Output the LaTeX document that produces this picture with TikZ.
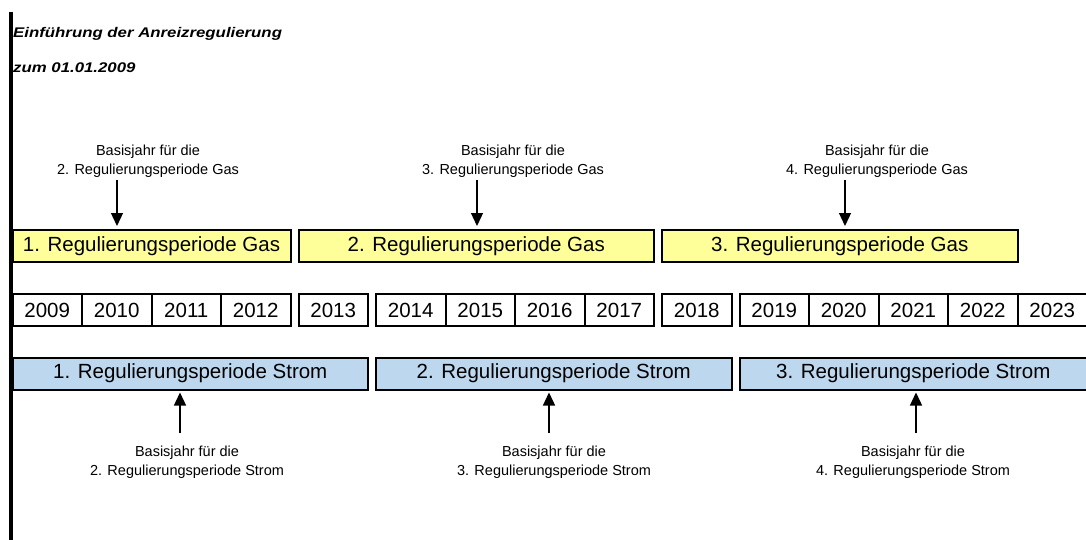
\documentclass[tikz,border=0pt]{standalone}
\usepackage{fontspec}
\setmainfont{Liberation Sans}
\usetikzlibrary{positioning}
\usetikzlibrary{arrows.meta,fit}
\definecolor{gasgelb}{HTML}{FFFF99}
\definecolor{stromblau}{HTML}{BDD7EE}

\begin{document}
\begin{tikzpicture}[x=1pt,y=-1pt,
   jahr/.style={draw,line width=2pt,minimum width=69.5pt,minimum height=32pt,
                inner sep=0pt,outer sep=0pt,font=\fontsize{20.5}{24}\selectfont},
   gas/.style={jahr,fill=gasgelb},
   strom/.style={jahr,fill=stromblau},
   periode/.style={label={[font=\fontsize{20.5}{24}\selectfont]center:#1}},
   basis/.style={align=center,inner sep=0pt,font=\fontsize{14.5}{19}\selectfont},
   titelstil/.style={inner sep=0pt,font=\fontsize{14}{16}\selectfont\bfseries\itshape},
   pfeil/.style={-{Triangle[length=13pt,width=12pt]},line width=1.3pt}]
   \useasboundingbox (0,0) rectangle (1086,540);
   \draw[line width=3.5pt] (10.9,12) -- (10.9,540);
   \node[titelstil,anchor=base west] (titel) at (13,37.5)
        {\scalebox{1.2}[1]{Einführung der Anreizregulierung}};
   \node[titelstil,below=35.2pt of titel.base west,anchor=base west] (datum)
        {\scalebox{1.2}[1]{zum 01.01.2009}};
   % Jahre
   \foreach \j/\g in {2009/0,2010/0,2011/0,2012/0,2013/1,2014/2,2015/2,2016/2,2017/2,
                      2018/3,2019/4,2020/4,2021/4,2022/4,2023/4}
      \node[jahr] (y\j) at ({12.5+(\j-2009+0.5)*69.5+8*\g},310) {\j};
   % Perioden Gas
   \node[gas,fit=(y2009)(y2012),yshift=64pt,periode={1. Regulierungsperiode Gas}] (g1) {};
   \node[gas,fit=(y2013)(y2017),yshift=64pt,periode={2. Regulierungsperiode Gas}] (g2) {};
   \node[gas,fit=(y2018)(y2022),yshift=64pt,periode={3. Regulierungsperiode Gas}] (g3) {};
   % Perioden Strom
   \node[strom,fit=(y2009)(y2013),yshift=-63.5pt,periode={1. Regulierungsperiode Strom}] (s1) {};
   \node[strom,fit=(y2014)(y2018),yshift=-63.5pt,periode={2. Regulierungsperiode Strom}] (s2) {};
   \node[strom,fit=(y2019)(y2023),yshift=-63.5pt,periode={3. Regulierungsperiode Strom}] (s3) {};
   % Basisjahre Gas
   \node[basis] (bg1) at (148,161) {Basisjahr für die\\2. Regulierungsperiode Gas};
   \node[basis] (bg2) at (513,161) {Basisjahr für die\\3. Regulierungsperiode Gas};
   \node[basis] (bg3) at (877,161) {Basisjahr für die\\4. Regulierungsperiode Gas};
   \coordinate (pg1) at (117,180);
   \coordinate (pg2) at (477,180);
   \coordinate (pg3) at (845,180);
   \draw[pfeil,shorten >=4pt] (pg1) -- (pg1 |- g1.north);
   \draw[pfeil,shorten >=4pt] (pg2) -- (pg2 |- g2.north);
   \draw[pfeil,shorten >=4pt] (pg3) -- (pg3 |- g3.north);
   % Basisjahre Strom
   \node[basis] (bs1) at (187,462) {Basisjahr für die\\2. Regulierungsperiode Strom};
   \node[basis] (bs2) at (554,462) {Basisjahr für die\\3. Regulierungsperiode Strom};
   \node[basis] (bs3) at (913,462) {Basisjahr für die\\4. Regulierungsperiode Strom};
   \coordinate (ps1) at (180,433);
   \coordinate (ps2) at (549,433);
   \coordinate (ps3) at (916,433);
   \draw[pfeil,shorten >=3pt] (ps1) -- (ps1 |- s1.south);
   \draw[pfeil,shorten >=3pt] (ps2) -- (ps2 |- s2.south);
   \draw[pfeil,shorten >=3pt] (ps3) -- (ps3 |- s3.south);
\end{tikzpicture}
\end{document}
